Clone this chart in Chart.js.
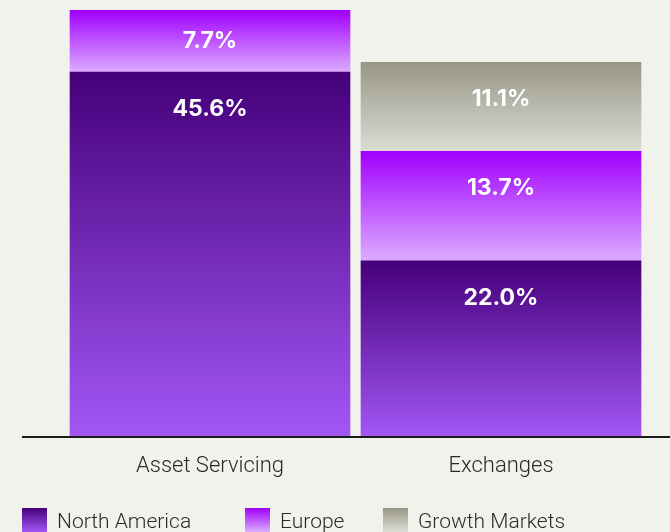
<!DOCTYPE html>
<html>
<head>
<meta charset="utf-8">
<script src="https://cdn.jsdelivr.net/npm/chart.js@4/dist/chart.umd.min.js"></script>
<style>
  html, body { margin: 0; padding: 0; background: #f2f2ed; }
  #wrap { position: relative; width: 670px; height: 532px; overflow: hidden; }
  #legend { position: absolute; left: 0; top: 508px; height: 24px; width: 670px; font-family: Roboto, sans-serif; font-weight: 300; font-size: 21px; color: #2a2a2a; }
  .item { position: absolute; top: 0; height: 24px; display: flex; align-items: flex-start; }
  .box { width: 25px; height: 24px; flex: none; }
  .lbl { margin-left: 10px; line-height: 24px; margin-top: 1px; white-space: nowrap; }
</style>
</head>
<body>
<div id="wrap">
  <canvas id="c" width="670" height="532"></canvas>
  <div id="legend"></div>
</div>
<script>
const categories = ["Asset Servicing", "Exchanges"];
const seriesNames = ["North America", "Europe", "Growth Markets"];
const northAmerica = [45.6, 22.0];
const europe = [7.7, 13.7];
const growthMarkets = [null, 11.1];
const seriesValues = [northAmerica, europe, growthMarkets];
const gradientStops = [
  ["#45007a", "#a257f5"],
  ["#a100ff", "#dcadff"],
  ["#979687", "#dddcd4"]
];
const legendLeft = [22, 245, 383];

function segGradient(ctx, di) {
  const chart = ctx.chart;
  const area = chart.chartArea;
  if (!area) return gradientStops[di][0];
  const i = ctx.dataIndex;
  if (i === undefined) return gradientStops[di][0];
  let start = 0;
  for (let k = 0; k < di; k++) start += (seriesValues[k][i] || 0);
  const v = seriesValues[di][i] || 0;
  const y = chart.scales.y;
  const top = y.getPixelForValue(start + v);
  const bot = y.getPixelForValue(start);
  if (!isFinite(top) || !isFinite(bot) || top === bot) return gradientStops[di][0];
  const g = chart.ctx.createLinearGradient(0, top, 0, bot);
  g.addColorStop(0, gradientStops[di][0]);
  g.addColorStop(1, gradientStops[di][1]);
  return g;
}

const labelPlugin = {
  id: 'segLabels',
  afterDatasetsDraw(chart) {
    const c = chart.ctx;
    c.save();
    c.fillStyle = '#ffffff';
    c.font = '700 23px Inter, sans-serif';
    c.textAlign = 'center';
    c.textBaseline = 'middle';
    chart.data.datasets.forEach((ds, di) => {
      const meta = chart.getDatasetMeta(di);
      meta.data.forEach((bar, i) => {
        const v = ds.data[i];
        if (v === null || v === undefined) return;
        const top = Math.min(bar.y, bar.base);
        const bot = Math.max(bar.y, bar.base);
        const y = Math.min((top + bot) / 2, top + 37);
        c.fillText(v.toFixed(1) + '%', bar.x, y);
      });
    });
    c.restore();
  }
};

const axisPlugin = {
  id: 'baseLine',
  afterDatasetsDraw(chart) {
    const c = chart.ctx;
    const y = chart.scales.y.getPixelForValue(0);
    c.save();
    c.strokeStyle = '#1a1a1a';
    c.lineWidth = 2;
    c.beginPath();
    c.moveTo(22, y);
    c.lineTo(670, y);
    c.stroke();
    c.restore();
  }
};

new Chart(document.getElementById('c'), {
  type: 'bar',
  data: {
    labels: categories,
    datasets: seriesNames.map((name, di) => ({
      label: name,
      data: seriesValues[di],
      backgroundColor: (ctx) => segGradient(ctx, di),
      borderWidth: 0,
      barThickness: 280
    }))
  },
  options: {
    responsive: false,
    animation: false,
    layout: { padding: { left: 64.5, right: 23.5, top: 0, bottom: 36.6 } },
    plugins: { legend: { display: false }, tooltip: { enabled: false } },
    scales: {
      x: {
        stacked: true,
        grid: { display: false, drawTicks: false },
        border: { display: false },
        ticks: { padding: 16, color: '#2a2a2a', font: { family: 'Roboto', weight: 300, size: 22 } }
      },
      y: {
        stacked: true,
        display: false,
        min: 0,
        max: 54.6
      }
    }
  },
  plugins: [labelPlugin, axisPlugin]
});

const leg = document.getElementById('legend');
seriesNames.forEach((name, di) => {
  const it = document.createElement('div');
  it.className = 'item';
  it.style.left = legendLeft[di] + 'px';
  const b = document.createElement('div');
  b.className = 'box';
  b.style.background = 'linear-gradient(to bottom, ' + gradientStops[di][0] + ', ' + gradientStops[di][1] + ')';
  const t = document.createElement('span');
  t.className = 'lbl';
  t.textContent = name;
  it.appendChild(b);
  it.appendChild(t);
  leg.appendChild(it);
});
</script>
</body>
</html>
